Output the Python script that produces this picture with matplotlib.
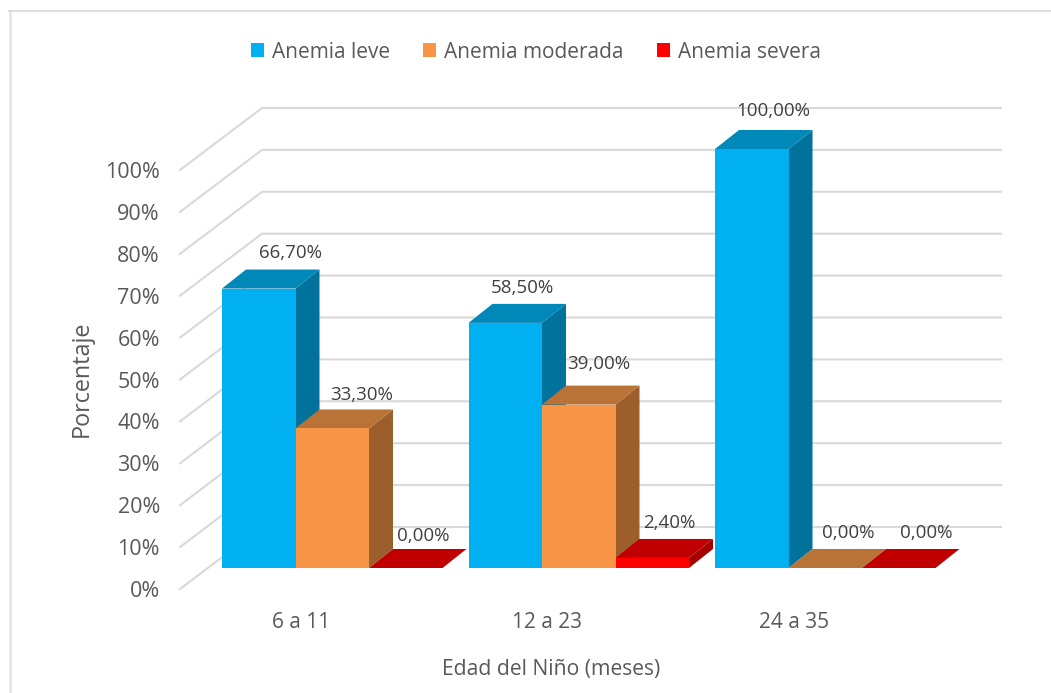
import matplotlib
matplotlib.use('Agg')
import matplotlib.pyplot as plt
from matplotlib.patches import Patch, Polygon

plt.rcParams['font.family'] = ['Open Sans', 'DejaVu Sans']

categories = ['6 a 11', '12 a 23', '24 a 35']
leve = [66.7, 58.5, 100.0]
moderada = [33.3, 39.0, 0.0]
severa = [0.0, 2.4, 0.0]
series_names = ['Anemia leve', 'Anemia moderada', 'Anemia severa']
pct_ticks = [0, 10, 20, 30, 40, 50, 60, 70, 80, 90, 100]

front_cols = ['#00b0f0', '#f79646', '#ff0000']
side_cols = ['#00729c', '#9c5f2b', '#a50000']
top_cols = ['#0088b9', '#b97337', '#c00000']
text_col = '#595959'
label_col = '#404040'
grid_col = '#d9d9d9'

# pixel scale of the picture, everything else comes from these
W, H = 1051, 693
cat_px = 246.5
pct_px = 4.19
x0_px = 301
y0_px = 568

bar_start = -79 / cat_px
bar_w = 73.5 / cat_px
bar_dx = 24 / cat_px
bar_dy = 19 / pct_px
wall_x = -121 / cat_px
wall_dx = 82 / cat_px
wall_dy = 62 / pct_px
floor_y = -21 / pct_px
grid_end = 700 / cat_px

# nudges of the value labels, pixels from the bar's front top centre
nudges = [[(32, 35.5), (29.5, 33.5), (17, 32)],
          [(17.5, 35), (20, 40.6), (17, 35)],
          [(22, 38), (23, 35), (27.5, 35)]]

fig = plt.figure(figsize=(W / 100, H / 100), dpi=100)
ax = fig.add_axes([0, 0, 1, 1])
ax.set_xlim(-x0_px / cat_px, (W - x0_px) / cat_px)
ax.set_ylim((y0_px - H) / pct_px, y0_px / pct_px)
ax.axis('off')

# chart frame, only top and left show in the picture
fig.add_artist(plt.Line2D([10 / W, 10 / W], [0, 1 - 11 / H], color='#e2e2e2', lw=1.8,
                          transform=fig.transFigure))
fig.add_artist(plt.Line2D([9 / W, 1], [1 - 11 / H, 1 - 11 / H], color=grid_col, lw=1.2,
                          transform=fig.transFigure))

# walls
for t in pct_ticks:
    y = t + floor_y
    ax.plot([wall_x, wall_x + wall_dx, grid_end],
            [y, y + wall_dy, y + wall_dy], color=grid_col, lw=1.5, zorder=1)
    ax.annotate(f'{t}%', (wall_x, y), xytext=(-20, -2.5), textcoords='offset pixels',
                ha='right', va='center', fontsize=15.5, color=text_col)

# bars, left to right so each one covers the side of the previous
values = [leve, moderada, severa]
z = 2
for i, cat in enumerate(categories):
    for j in range(3):
        v = values[j][i]
        x = i + bar_start + j * bar_w
        xr = x + bar_w
        if v > 0:
            ax.add_patch(Polygon([(xr, 0), (xr + bar_dx, bar_dy), (xr + bar_dx, v + bar_dy), (xr, v)],
                                 fc=side_cols[j], ec='none', zorder=z))
        ax.add_patch(Polygon([(x, v), (xr, v), (xr + bar_dx, v + bar_dy), (x + bar_dx, v + bar_dy)],
                             fc=top_cols[j], ec='none', zorder=z))
        if v > 0:
            ax.bar(x, v, bar_w, align='edge', color=front_cols[j], zorder=z)
        z += 1

for i, cat in enumerate(categories):
    for j in range(3):
        v = values[j][i]
        x = i + bar_start + (j + 0.5) * bar_w
        ax.annotate(f'{v:.2f}%'.replace('.', ','), (x, v), xytext=nudges[i][j],
                    textcoords='offset pixels', ha='center', va='center',
                    fontsize=13.5, color=label_col, zorder=50)
    ax.text(i, (y0_px - 623) / pct_px, cat, ha='center', va='center',
            fontsize=15, color=text_col)

fig.text(551 / W, 1 - 669 / H, 'Edad del Niño (meses)', ha='center', va='center',
         fontsize=15.2, color=text_col)
fig.text(82 / W, 1 - 379 / H, 'Porcentaje', rotation=90, ha='center', va='center',
         fontsize=16.8, color=text_col)

handles = [Patch(fc=c, ec='none') for c in front_cols]
fig.legend(handles, series_names, ncol=3, loc='center', bbox_to_anchor=(536 / W, 1 - 52 / H),
           frameon=False, fontsize=15, labelcolor=text_col, handlelength=0.63,
           handleheight=0.63, handletextpad=0.38, columnspacing=1.6)

fig.savefig('out.png', dpi=100)
